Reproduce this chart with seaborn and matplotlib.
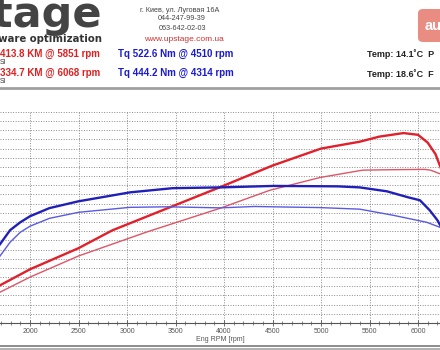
import numpy as np
import pandas as pd
import matplotlib
matplotlib.use("Agg")
import matplotlib.pyplot as plt
from matplotlib.patches import FancyBboxPatch
from matplotlib.lines import Line2D
import seaborn as sns

# ---- data ----
rpm_p1 = [1690, 2000, 2500, 2850, 3500, 3960, 4500, 5000, 5400, 5600, 5851, 6000, 6100, 6180, 6240]
hp_p1 = [82, 117, 163, 202, 257, 296, 343, 380, 395, 406, 413.8, 410, 393, 368, 335]

rpm_p2 = [1690, 2000, 2500, 3200, 3960, 4470, 4990, 5430, 5740, 6068, 6130, 6240]
hp_p2 = [67, 100, 146, 198, 250, 289, 317, 333, 334, 334.7, 333, 324]

rpm_t1 = [1690, 1795, 1900, 2000, 2200, 2500, 3030, 3470, 3960, 4510, 5170, 5400, 5680, 5900, 6020, 6120, 6200, 6240]
tq_t1 = [300, 354, 384, 407, 438, 464, 498, 514, 517, 522.6, 521, 517, 502, 479, 468, 430, 392, 365]

rpm_t2 = [1690, 1795, 1900, 2000, 2200, 2500, 3030, 3410, 3960, 4314, 4990, 5400, 5740, 6090, 6240]
tq_t2 = [255, 308, 346, 369, 399, 422, 441, 443, 439, 444.2, 440, 434, 411, 384, 363]

x_ticks = [2000, 2500, 3000, 3500, 4000, 4500, 5000, 5500, 6000]
x_label = "Eng RPM [rpm]"

W, H = 440, 350
fig = plt.figure(figsize=(W / 100, H / 100), dpi=100)
fig.patch.set_facecolor("white")


def fx(px):
    return px / W


def fy(py):
    return 1 - py / H


ax_bottom = 323.0
ax_top = 111.4
ax = fig.add_axes([0, fy(ax_bottom), 1, (ax_bottom - ax_top) / H])
ax.set_facecolor("white")

xmin = 2000 - 30 / 0.097
xmax = 6000 + 22 / 0.097
ax.set_xlim(xmin, xmax)
ax.set_ylim(0, 461)

sns.lineplot(x=rpm_p1, y=hp_p1, ax=ax, color="#e0202a", lw=1.7, zorder=4)
sns.lineplot(x=rpm_p2, y=hp_p2, ax=ax, color="#dd5566", lw=1.0, zorder=3)

ax2 = ax.twinx()
ax2.set_ylim(0, 805 * 461 / 460)
ax2.set_xlim(xmin, xmax)
sns.lineplot(x=rpm_t1, y=tq_t1, ax=ax2, color="#2020b8", lw=1.7, zorder=4)
sns.lineplot(x=rpm_t2, y=tq_t2, ax=ax2, color="#5a5ae0", lw=1.0, zorder=3)
ax2.axis("off")

ax.set_yticks(np.arange(0, 461, 20))
ax.set_xticks(x_ticks)
ax.set_xticks(np.arange(1700, 6300, 100), minor=True)
ax.set_xticklabels([str(t) for t in x_ticks], fontsize=5, color="#555555",
                   family="Liberation Sans")
ax.tick_params(axis="y", length=0, labelleft=False)
ax.tick_params(axis="x", which="major", direction="inout", length=4, width=0.6,
               color="#555555", pad=1.5)
ax.tick_params(axis="x", which="minor", direction="inout", length=2.5, width=0.5,
               color="#555555")
ax.grid(True, which="major", linestyle=(0, (1, 1.6)), color="#8a8a8a", lw=0.7)
ax.set_axisbelow(True)
for s in ["left", "top", "right"]:
    ax.spines[s].set_visible(False)
ax.spines["bottom"].set_color("#555555")
ax.spines["bottom"].set_linewidth(0.8)
ax.set_xlabel(x_label, fontsize=5, color="#555555", family="Liberation Sans", labelpad=1)

# ---- separator lines ----
fig.add_artist(Line2D([0, 1], [fy(88), fy(88)], color="#a0a0a0", lw=2.0))
fig.add_artist(Line2D([0, 1], [fy(345.5), fy(345.5)], color="#8c8c8c", lw=1.4))
fig.add_artist(Line2D([0, 1], [fy(349), fy(349)], color="#b0b0b0", lw=1.4))

# ---- header texts ----
fig.text(fx(102), fy(27), "upstage", ha="right", va="baseline", fontsize=31,
         fontweight="bold", color="#444444", family="DejaVu Sans")
fig.text(fx(102), fy(42.5), "software optimization", ha="right", va="baseline",
         fontsize=7.3, fontweight="bold", color="#333333", family="DejaVu Sans")

red = "#e02020"
blue = "#1a1ad0"
fig.text(fx(0), fy(54), "413.8 KM @ 5851 rpm", ha="left", va="center",
         fontsize=7, fontweight="bold", color=red, family="Liberation Sans")
fig.text(fx(0), fy(62.5), "SI", ha="left", va="center", fontsize=4.8,
         color="#333333", family="Liberation Sans")
fig.text(fx(0), fy(72.7), "334.7 KM @ 6068 rpm", ha="left", va="center",
         fontsize=7, fontweight="bold", color=red, family="Liberation Sans")
fig.text(fx(0), fy(81.5), "SI", ha="left", va="center", fontsize=4.8,
         color="#333333", family="Liberation Sans")

fig.text(fx(118), fy(54), "Tq 522.6 Nm @ 4510 rpm", ha="left", va="center",
         fontsize=7, fontweight="bold", color=blue, family="Liberation Sans")
fig.text(fx(118), fy(72.7), "Tq 444.2 Nm @ 4314 rpm", ha="left", va="center",
         fontsize=7, fontweight="bold", color=blue, family="Liberation Sans")

fig.text(fx(180), fy(10), "г. Киев, ул. Луговая 16А", ha="center", va="center",
         fontsize=5.2, color="#444444", family="Liberation Sans")
fig.text(fx(182), fy(19), "044-247-99-39", ha="center", va="center",
         fontsize=5.2, color="#444444", family="Liberation Sans")
fig.text(fx(182), fy(28), "063-642-02-03", ha="center", va="center",
         fontsize=5.2, color="#444444", family="Liberation Sans")
fig.text(fx(184), fy(39.5), "www.upstage.com.ua", ha="center", va="center",
         fontsize=6, color="#d03030", family="Liberation Sans")

fig.text(fx(367), fy(54.5), "Temp: 14.1˚C  P", ha="left", va="center",
         fontsize=6.5, fontweight="bold", color="#222222", family="Liberation Sans")
fig.text(fx(367), fy(74.3), "Temp: 18.6˚C  F", ha="left", va="center",
         fontsize=6.5, fontweight="bold", color="#222222", family="Liberation Sans")

# watermark badge
badge = FancyBboxPatch((fx(418), fy(42)), fx(40), (42 - 9) / H,
                       boxstyle="round,pad=0,rounding_size=0.012",
                       transform=fig.transFigure, facecolor="#e8877c",
                       edgecolor="none", alpha=0.95)
fig.add_artist(badge)
fig.text(fx(425), fy(25.5), "au", ha="left", va="center", fontsize=10.5,
         fontweight="bold", color="white", family="Liberation Sans")

fig.savefig("out.png", dpi=100)
